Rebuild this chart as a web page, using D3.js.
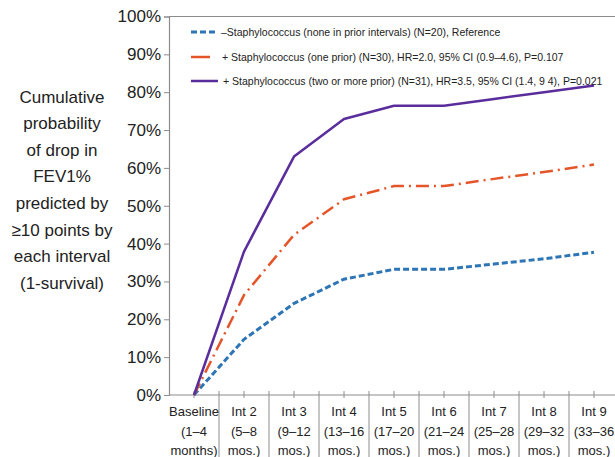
<!DOCTYPE html>
<html lang="en">
<head>
    <meta charset="UTF-8">
    <title>Cumulative probability of FEV1 drop</title>
    <script src="https://d3js.org/d3.v7.min.js"></script>
    <style>
        body { margin: 0; background: #fff; }
        text { font-family: "Liberation Sans", Arial, sans-serif; fill: #222; }
    </style>
</head>
<body>
    <svg width="615" height="457"></svg>

    <script>
        // Categories (x axis), each label split into lines
        const categories = ["Baseline", "Int 2", "Int 3", "Int 4", "Int 5", "Int 6", "Int 7", "Int 8", "Int 9"];
        const catLabels = [
            ["Baseline", "(1\u20134", "months)"],
            ["Int 2", "(5\u20138", "mos.)"],
            ["Int 3", "(9\u201312", "mos.)"],
            ["Int 4", "(13\u201316", "mos.)"],
            ["Int 5", "(17\u201320", "mos.)"],
            ["Int 6", "(21\u201324", "mos.)"],
            ["Int 7", "(25\u201328", "mos.)"],
            ["Int 8", "(29\u201332", "mos.)"],
            ["Int 9", "(33\u201336", "mos.)"]
        ];

        // Series values (cumulative probability)
        const noneValues = [0, 0.147, 0.242, 0.306, 0.332, 0.332, 0.346, 0.360, 0.377];
        const oneValues  = [0, 0.264, 0.423, 0.517, 0.552, 0.552, 0.571, 0.589, 0.609];
        const twoValues  = [0, 0.379, 0.630, 0.729, 0.764, 0.764, 0.782, 0.800, 0.818];

        const seriesNames = [
            "\u2013Staphylococcus (none in prior intervals) (N=20), Reference",
            "+ Staphylococcus (one prior) (N=30), HR=2.0, 95% CI (0.9\u20134.6), P=0.107",
            "+ Staphylococcus (two or more prior) (N=31), HR=3.5, 95% CI (1.4, 9 4), P=0.021"
        ];

        const yTicks = d3.range(0, 1.01, 0.1);
        const yTitle = ["Cumulative", "probability", "of drop in", "FEV1%", "predicted by",
                        "\u226510 points by", "each interval", "(1-survival)"];

        const series = [
            { name: seriesNames[0], values: noneValues, color: "#2e75b6", width: 3, dash: "6,3", legendDash: "6,3", legendLen: 27 },
            { name: seriesNames[1], values: oneValues, color: "#e4552a", width: 2.5, dash: "13,5,2,5", legendDash: null, legendLen: 19 },
            { name: seriesNames[2], values: twoValues, color: "#5a2d9c", width: 2.5, dash: null, legendDash: null, legendLen: 27 }
        ];

        const svg = d3.select("svg");
        const axisColor = "#8c8c8c";

        // Scales
        const x = d3.scaleBand().domain(categories).range([169, 619]).padding(0);
        const cx = c => x(c) + x.bandwidth() / 2;
        const y = d3.scaleLinear().domain([0, 1]).range([395, 16.5]);

        // Top frame line
        svg.append("line")
            .attr("x1", 169).attr("x2", 615)
            .attr("y1", y(1)).attr("y2", y(1))
            .attr("stroke", axisColor).attr("stroke-width", 1.2);

        // Y axis
        const yAxis = svg.append("g")
            .attr("transform", "translate(169,0)")
            .call(d3.axisLeft(y).tickValues(yTicks).tickFormat(d3.format(".0%")).tickSize(5).tickPadding(3));
        yAxis.select(".domain").attr("stroke", axisColor).attr("stroke-width", 1.2);
        yAxis.selectAll(".tick line").attr("stroke", axisColor);
        yAxis.selectAll(".tick text")
            .attr("font-size", 17)
            .attr("font-family", "Liberation Sans, Arial, sans-serif")
            .attr("fill", "#222");

        // X axis line
        svg.append("line")
            .attr("x1", 169).attr("x2", 615)
            .attr("y1", 395).attr("y2", 395)
            .attr("stroke", axisColor).attr("stroke-width", 1.2);

        // Minor ticks at category centres
        svg.selectAll(".ctick")
            .data(categories)
            .join("line")
            .attr("x1", d => cx(d)).attr("x2", d => cx(d))
            .attr("y1", 391).attr("y2", 398)
            .attr("stroke", axisColor);

        // Category separators running through the label area
        svg.selectAll(".sep")
            .data(categories.slice(1))
            .join("line")
            .attr("x1", d => x(d)).attr("x2", d => x(d))
            .attr("y1", 391).attr("y2", 457)
            .attr("stroke", axisColor);

        // Category labels
        const lab = svg.selectAll(".cat")
            .data(categories)
            .join("text")
            .attr("text-anchor", "middle")
            .attr("font-size", 13);
        lab.selectAll("tspan")
            .data((d, i) => catLabels[i].map(t => ({ t, c: d })))
            .join("tspan")
            .attr("x", d => cx(d.c))
            .attr("y", (d, i) => 416 + i * 19.6)
            .text(d => d.t);

        // Y axis title
        svg.append("text")
            .attr("text-anchor", "middle")
            .attr("font-size", 17)
            .selectAll("tspan")
            .data(yTitle)
            .join("tspan")
            .attr("x", 62)
            .attr("y", (d, i) => 102.5 + i * 26.6)
            .text(d => d);

        // Lines
        const line = d3.line()
            .x((d, i) => cx(categories[i]))
            .y(d => y(d));

        svg.selectAll(".series")
            .data(series)
            .join("path")
            .attr("d", d => line(d.values))
            .attr("fill", "none")
            .attr("stroke", d => d.color)
            .attr("stroke-width", d => d.width)
            .attr("stroke-dasharray", d => d.dash)
            .attr("stroke-linejoin", "round");

        // Legend
        const legendY = [32, 57, 81];
        const leg = svg.selectAll(".leg")
            .data(series)
            .join("g")
            .attr("transform", (d, i) => `translate(191,${legendY[i]})`);
        leg.append("line")
            .attr("x1", 0).attr("x2", d => d.legendLen)
            .attr("stroke", d => d.color)
            .attr("stroke-width", d => d.width)
            .attr("stroke-dasharray", d => d.legendDash);
        leg.append("text")
            .attr("x", (d, i) => [30, 31, 32][i])
            .attr("y", 4)
            .attr("font-size", 10.5)
            .text(d => d.name);
    </script>
</body>
</html>
